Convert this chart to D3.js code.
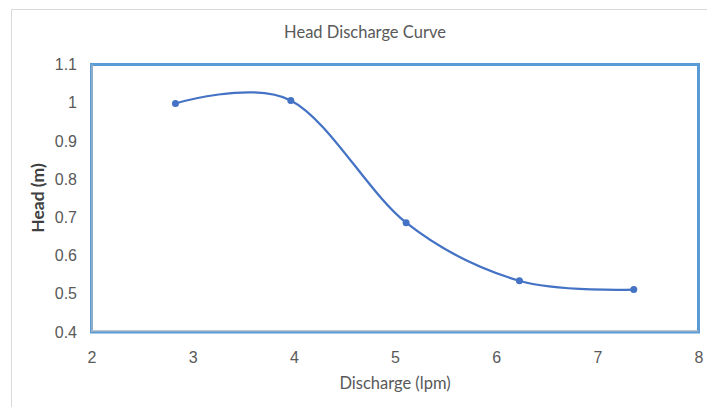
<!DOCTYPE html>
<html>
<head>
<meta charset="utf-8">
<script src="https://cdn.jsdelivr.net/npm/d3@7"></script>
<style>
  html, body { margin: 0; padding: 0; background: #fff; }
  svg { display: block; font-family: Lato, "Open Sans", sans-serif; }
</style>
</head>
<body>
<svg id="chart" width="707" height="407"></svg>
<script>
// Pump test: discharge vs head
const discharge = [2.83, 3.97, 5.11, 6.23, 7.36];
const head = [0.998, 1.006, 0.686, 0.534, 0.511];
const xTicks = [2, 3, 4, 5, 6, 7, 8];
const yTicks = [0.4, 0.5, 0.6, 0.7, 0.8, 0.9, 1, 1.1];
const titleText = "Head Discharge Curve";
const xTitle = "Discharge (lpm)";
const yTitle = "Head (m)";

const svg = d3.select("#chart");
const plot = { left: 91.5, top: 64.5, right: 698.5, bottom: 332 };

const x = d3.scaleLinear().domain([2, 8]).range([plot.left, plot.right]);
const y = d3.scaleLinear().domain([0.4, 1.1]).range([plot.bottom, plot.top]);

// outer chart frame
svg.append("rect")
  .attr("x", 11.5).attr("y", 9.5)
  .attr("width", 720).attr("height", 420)
  .attr("fill", "#fff").attr("stroke", "#d9d9d9").attr("stroke-width", 1);

// plot area border
svg.append("rect")
  .attr("x", plot.left).attr("y", plot.top)
  .attr("width", plot.right - plot.left).attr("height", plot.bottom - plot.top)
  .attr("fill", "none").attr("stroke", "#5b9bd5").attr("stroke-width", 3);

// axes
const xAxis = d3.axisBottom(x).tickValues(xTicks).tickSize(0).tickPadding(21)
  .tickFormat(d3.format("d"));
const yAxis = d3.axisLeft(y).tickValues(yTicks).tickSize(0).tickPadding(15)
  .tickFormat(d => String(d));

const gx = svg.append("g").attr("transform", `translate(0,${plot.bottom - 1})`).call(xAxis);
const gy = svg.append("g").attr("transform", `translate(${plot.left + 0.5},0)`).call(yAxis);

[gx, gy].forEach(g => {
  g.select(".domain").attr("stroke", "#bfbfbf").attr("stroke-width", 1);
  g.selectAll("text").attr("fill", "#595959").style("font-size", "16px");
});
gy.select(".domain").attr("d", `M0,${plot.bottom}V${plot.top}`);
gx.select(".domain").attr("d", `M${plot.left},0H${plot.right}`);

// smoothed series line
const line = d3.line()
  .x((d, i) => x(discharge[i]))
  .y(d => y(d))
  .curve(d3.curveCardinal.tension(0));

svg.append("path")
  .datum(head)
  .attr("d", line)
  .attr("fill", "none")
  .attr("stroke", "#4472c4")
  .attr("stroke-width", 2.25)
  .attr("stroke-linecap", "round");

svg.append("g").selectAll("circle")
  .data(head)
  .join("circle")
  .attr("cx", (d, i) => x(discharge[i]))
  .attr("cy", d => y(d))
  .attr("r", 3.5)
  .attr("fill", "#4472c4");

// titles
svg.append("text")
  .attr("x", 365).attr("y", 38)
  .attr("text-anchor", "middle")
  .attr("fill", "#595959")
  .style("font-size", "16.5px")
  .text(titleText);

svg.append("text")
  .attr("x", 395).attr("y", 389)
  .attr("text-anchor", "middle")
  .attr("fill", "#595959")
  .style("font-size", "16.5px")
  .text(xTitle);

svg.append("text")
  .attr("transform", "translate(44,198) rotate(-90)")
  .attr("text-anchor", "middle")
  .attr("fill", "#404040")
  .style("font-size", "17.5px")
  .style("font-weight", "bold")
  .text(yTitle);
</script>
</body>
</html>
